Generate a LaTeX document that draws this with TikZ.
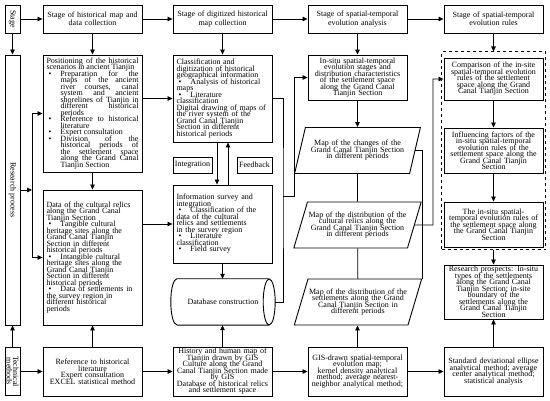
\documentclass[tikz,border=0pt]{standalone}
\usepackage{fontspec}
\setmainfont{Liberation Serif}
\usetikzlibrary{arrows.meta, shapes.geometric}

\hyphenpenalty=10000
\exhyphenpenalty=10000
\tolerance=10000
\newcommand{\fs}{\fontsize{8}{6.5}\selectfont\lineskiplimit=-5pt}
\newcommand{\fst}{\fontsize{8}{8.3}\selectfont}
\newcommand{\bul}{\par\hangindent=14pt\hangafter=1\noindent\makebox[14pt][l]{\hspace{2pt}\textbullet}}

\begin{document}
\begin{tikzpicture}[x=1pt, y=-1pt,
    box/.style={draw, line width=0.9pt, inner sep=0pt, font=\fs, align=center},
    stagebox/.style={box, font=\fst, minimum width=99pt, minimum height=28pt, text width=97pt},
    colbox/.style={box, minimum width=99pt, text width=96pt},
    listbox/.style={box, minimum width=99pt, text width=92pt},
    sidebox/.style={box, rotate=-90, minimum height=15pt},
    slant/.style={draw, line width=0.9pt, trapezium, trapezium left angle=63,
        trapezium right angle=117, trapezium stretches=true,
        minimum width=126pt, minimum height=46pt, text width=100pt,
        align=center, font=\fs, inner sep=0pt},
    arr/.style={-{Triangle[length=5pt,width=4.5pt]}, line width=0.8pt},
    line/.style={line width=0.8pt}
]
\useasboundingbox (0,0) rectangle (550,401);

% side column
\node[sidebox, minimum width=28pt] (stage) at (12.5,19) {Stage};
\node[sidebox, minimum width=270pt] (research) at (12.5,190) {Research process};
\node[sidebox, minimum width=48pt] (tech) at (12.5,371.5) {Technical\\methods};

% stages
\node[stagebox] (s1) at (92.5,19) {Stage of historical map and\\data collection};
\node[stagebox] (s2) at (222.5,19) {Stage of digitized historical\\map collection};
\node[stagebox] (s3) at (357.5,19) {Stage of spatial-temporal\\evolution analysis};
\node[stagebox] (s4) at (493.5,19) {Stage of spatial-temporal\\evolution rules};

% data collection
\node[listbox, align=justify, minimum height=117pt] (pos) at (92.5,113.5) {Positioning of the historical\linebreak scenarios in ancient Tianjin
\bul Preparation for the\linebreak maps of the ancient\linebreak river courses, canal\linebreak system and ancient\linebreak shorelines of Tianjin in\linebreak different historical\linebreak periods
\bul Reference to historical\linebreak literature
\bul Expert consultation
\bul Division of the\linebreak historical periods of\linebreak the settlement space\linebreak along the Grand Canal\linebreak Tianjin Section\par};
\node[listbox, align=left, minimum height=135pt] (data) at (92.5,257.5) {Data of the cultural relics\\along the Grand Canal\\Tianjin Section
\bul Tangible cultural\\heritage sites along the\\Grand Canal Tianjin\\Section in different\\historical periods
\bul Intangible cultural\\heritage sites along the\\Grand Canal Tianjin\\Section in different\\historical periods
\bul Data of settlements in\\the survey region in\\different historical\\periods\par};
\node[colbox, minimum height=49pt] (ref) at (92.5,371.5) {Reference to historical\\literature\\Expert consultation\\EXCEL statistical method};

% digitized maps
\node[listbox, align=left, minimum height=87pt] (cls) at (222.5,98.5) {Classification and\\digitization of historical\\geographical information
\bul Analysis of historical\\maps
\bul Literature\\classification
\par Digital drawing of maps of\\the river system of the\\Grand Canal Tianjin\\Section in different\\historical periods\par};
\node[box, minimum width=39pt, minimum height=16pt] (integ) at (192.5,165) {Integration};
\node[box, minimum width=35pt, minimum height=16pt] (feedb) at (254.5,165) {Feedback};
\node[listbox, align=left, minimum height=78pt] (info) at (222.5,224) {Information survey and\\integration
\bul Classification of the\\data of the cultural\\relics and settlements\\in the survey region
\bul Literature\\classification
\bul Field survey\par};
\node[font=\fs, minimum width=104pt, minimum height=46pt, inner sep=0pt] (db) at (223,302) {Database construction};
\draw[line width=0.9pt] ([xshift=6pt]db.north west) -- ([xshift=-6pt]db.north east)
    ([xshift=6pt]db.south west) -- ([xshift=-6pt]db.south east)
    ([xshift=-6pt]db.east) ellipse [x radius=6pt, y radius=23pt]
    ([xshift=6pt]db.north west) arc [start angle=90, end angle=270, x radius=6pt, y radius=23pt];
\node[colbox, minimum height=49pt] (hist) at (222.5,371.5) {History and human map of\\Tianjin drawn by GIS\\Culture along the Grand\\Canal Tianjin Section made\\by GIS\\Database of historical relics\\and settlement space};

% analysis
\node[colbox, minimum height=45pt] (insitu) at (357.5,77.5) {In-situ spatial-temporal\\evolution stages and\\distribution characteristics\\of the settlement space\\along the Grand Canal\\Tianjin Section};
\node[slant] (p1) at (357.5,150.5) {Map of the changes of the\\Grand Canal Tianjin Section\\in different periods};
\node[slant] (p2) at (357.5,225) {Map of the distribution of the\\cultural relics along the\\Grand Canal Tianjin Section\\in different periods};
\node[slant] (p3) at (358,302) {Map of the distribution of the\\settlements along the Grand\\Canal Tianjin Section in\\different periods};
\node[colbox, minimum height=49pt] (gis) at (357.5,371.5) {GIS-drawn spatial-temporal\\evolution map;\\kernel density analytical\\method; average nearest-\\neighbor analytical method;};

% rules
\node[draw, dashed, line width=1pt, minimum width=104pt, minimum height=198pt] (grp) at (493.5,151) {};
\node[colbox, minimum height=42pt] (cmp) at (493.5,79) {Comparison of the in-site\\spatial-temporal evolution\\rules of the settlement\\space along the Grand\\Canal Tianjin Section};
\node[colbox, minimum height=45pt] (infl) at (493.5,150.5) {Influencing factors of the\\in-situ spatial-temporal\\evolution rules of the\\settlement space along the\\Grand Canal Tianjin\\Section};
\node[colbox, minimum height=45pt] (rules) at (493.5,224.5) {The in-situ spatial-\\temporal evolution rules of\\the settlement space along\\the Grand Canal Tianjin\\Section};
\node[colbox, minimum height=54pt] (prosp) at (493.5,292) {Research prospects: In-situ\\types of the settlements\\along the Grand Canal\\Tianjin Section; in-site\\boundary of the\\settlements along the\\Grand Canal Tianjin\\Section};
\node[colbox, minimum height=49pt] (std) at (493.5,371.5) {Standard deviational ellipse\\analytical method; average\\center analytical method;\\statistical analysis};

% junctions
\coordinate (busM) at (32,190);
\coordinate (busT) at (32,113.5);
\coordinate (busB) at (32,257.5);
\coordinate (jA) at (283,196);
\coordinate (jB) at (294,196);
\coordinate (kB) at (433,225);

% arrows
\draw[arr] (stage) -- (s1);
\draw[arr] (s1) -- (s2);
\draw[arr] (s2) -- (s3);
\draw[arr] (s3) -- (s4);
\draw[arr] (stage) -- (research);
\draw[arr] (tech) -- (research);
\draw[arr] (tech) -- (ref);
\draw[arr] (research) -- (busM);
\draw[line] (busT) -- (busB);
\draw[arr] (busT) -- (pos);
\draw[arr] (busB) -- (data);
\draw[arr] (s1) -- (pos);
\draw[arr] (s2) -- (cls);
\draw[arr] (s3) -- (insitu);
\draw[arr] (s4) -- (grp);
\draw[arr] (pos) -- (data);
\draw[arr] (ref) -- (data);
\draw[arr] (cls.west -| pos.east) -- (cls.west);
\draw[arr] (info.west -| data.east) -- (info.west);
\draw[arr] ([xshift=-5.5pt]cls.south) -- ([xshift=-5.5pt]info.north);
\draw[arr] ([xshift=5.5pt]info.north) -- ([xshift=5.5pt]cls.south);
\draw[arr] (info.south) -- (info.south |- db.north);
\draw[arr] (hist.north) -- (hist.north |- db.south);
\draw[arr] (ref) -- (hist);
\draw[arr] (hist) -- (gis);
\draw[arr] (gis) -- (std);
\draw[line] (cls.east) -| (jA) |- (db.east);
\draw[arr] (jA) -- (jB) |- (insitu.west);
\draw[arr] (insitu) -- (p1);
\draw[line] (p1) -- (p2);
\draw[line] (p2) -- (p3);
\draw[arr] (gis.north) -- (gis.north |- p3.south);
\draw[line] (p1.east) -| (p3.top right corner);
\draw[arr] (p2.east) -- (kB) |- (cmp.west);
\draw[arr] (cmp) -- (infl);
\draw[arr] (infl) -- (rules);
\draw[arr] (grp) -- (prosp);
\draw[arr] (std) -- (prosp);
\end{tikzpicture}
\end{document}
